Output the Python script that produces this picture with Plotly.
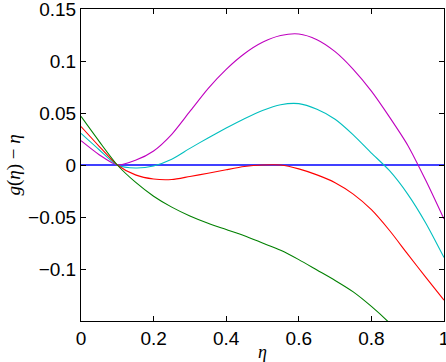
import plotly.graph_objects as go

# values
eta = [0.0, 0.05, 0.1, 0.15, 0.2, 0.25, 0.3, 0.35, 0.4, 0.45, 0.5, 0.55, 0.6,
       0.65, 0.7, 0.75, 0.8, 0.85, 0.9, 0.95, 1.0]

g_magenta = [0.0234, 0.0099, 0.0, 0.0045, 0.0135, 0.0295, 0.0515, 0.0735, 0.092, 0.107,
             0.118, 0.1245, 0.126, 0.1205, 0.109, 0.092, 0.071, 0.046, 0.019, -0.015, -0.052]
g_cyan = [0.0304, 0.0147, 0.0, -0.0029, -0.0009, 0.0055, 0.016, 0.026, 0.0355, 0.0445,
          0.0525, 0.058, 0.059, 0.0535, 0.044, 0.029, 0.0115, -0.0055, -0.028, -0.056, -0.089]
g_red = [0.037, 0.018, 0.0, -0.0095, -0.0135, -0.014, -0.011, -0.008, -0.0046, -0.0015,
         0.0, 0.0, -0.0037, -0.0095, -0.017, -0.028, -0.043, -0.063, -0.0857, -0.108, -0.13]
g_green = [0.0467, 0.0227, 0.0, -0.0165, -0.030, -0.0405, -0.049, -0.056, -0.062, -0.068,
           -0.075, -0.082, -0.091, -0.101, -0.111, -0.122, -0.136, -0.152, -0.171, -0.192, -0.215]

zero_x = [0.0, 1.0]
zero_y = [0.0, 0.0]

x_ticks = [0, 0.2, 0.4, 0.6, 0.8, 1]
x_labels = ["0", "0.2", "0.4", "0.6", "0.8", "1"]
y_ticks = [-0.1, -0.05, 0, 0.05, 0.1, 0.15]
y_labels = ["\u22120.1", "\u22120.05", "0", "0.05", "0.1", "0.15"]

fig = go.Figure()

fig.add_trace(go.Scatter(x=zero_x, y=zero_y, mode='lines',
                         line=dict(color='#0000ff', width=1.4)))

series = [
    (g_magenta, '#bf00bf'),
    (g_cyan, '#00bfbf'),
    (g_red, '#ff0000'),
    (g_green, '#008000'),
]
for vals, col in series:
    fig.add_trace(go.Scatter(x=eta, y=vals, mode='lines',
                             line=dict(color=col, width=1.1, shape='spline', smoothing=0.7)))

axis_style = dict(
    showgrid=False, zeroline=False, showline=True, linecolor='black', linewidth=1,
    mirror='ticks', ticks='inside', ticklen=5, tickcolor='black', tickwidth=1,
    automargin=False, ticklabeloverflow='allow',
    tickfont=dict(family='Liberation Sans, Arial', size=19, color='black'),
)

fig.update_xaxes(range=[0, 1], tickvals=x_ticks, ticktext=x_labels,
                 title=dict(text='<i>\u03b7</i>', standoff=0,
                            font=dict(family='Liberation Serif', size=18, color='black')),
                 **axis_style)
fig.update_yaxes(range=[-0.15, 0.15], tickvals=y_ticks, ticktext=y_labels,
                 title=dict(text='<i>g</i>(<i>\u03b7</i>) \u2212 <i>\u03b7</i>', standoff=2,
                            font=dict(family='Liberation Serif', size=19, color='black')),
                 **axis_style)

fig.update_layout(
    width=446, height=362,
    margin=dict(l=81, r=2, t=9, b=41),
    paper_bgcolor='white', plot_bgcolor='white',
    showlegend=False,
)

# page body has a default margin; drop it so the figure sits at the corner
fig.write_html("out.html", config={'displayModeBar': False},
               post_script="document.body.style.margin='0';")
